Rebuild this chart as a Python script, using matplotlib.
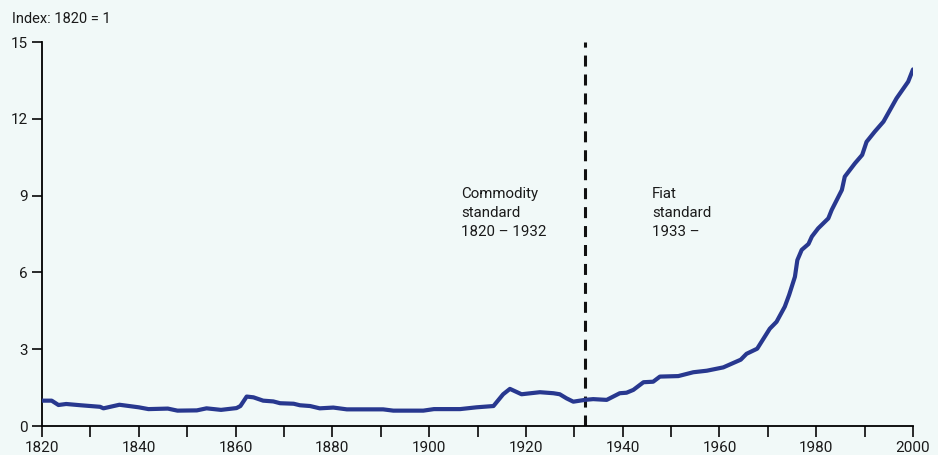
import matplotlib
matplotlib.use("Agg")
import matplotlib.pyplot as plt
import numpy as np

plt.rcParams['font.family'] = ['Roboto', 'DejaVu Sans']

# price level index, 1820 = 1
years = [1820, 1822, 1823.4, 1825, 1828, 1832, 1832.7, 1836, 1840, 1842, 1846, 1848,
         1852, 1854, 1857, 1860.2, 1861, 1862.3, 1863.7, 1865.7, 1867.8, 1869.2, 1872,
         1873.3, 1875.4, 1877.4, 1880.2, 1883, 1890.5, 1892.6, 1898.8, 1901, 1906.4,
         1909.8, 1913.3, 1915.3, 1916.7, 1919.1, 1922.9, 1925.7, 1927, 1928.4, 1929.8,
         1932.2, 1933.9, 1936.7, 1939.4, 1940.8, 1942.2, 1944.3, 1946.3, 1947.7, 1951.5,
         1954.6, 1957.4, 1960.8, 1964.4, 1965.6, 1967.8, 1970.4, 1971.8, 1973.5, 1974.4,
         1975.6, 1976.1, 1977, 1978.4, 1979.1, 1980.4, 1982.5, 1983.2, 1985.3, 1985.9,
         1988, 1989.5, 1990.4, 1992.1, 1993.9, 1996.6, 1999, 2000]
index = [0.99, 0.99, 0.82, 0.86, 0.81, 0.75, 0.69, 0.83, 0.73, 0.66, 0.68, 0.60,
         0.61, 0.69, 0.63, 0.70, 0.78, 1.15, 1.12, 0.99, 0.96, 0.89, 0.87,
         0.81, 0.78, 0.69, 0.72, 0.65, 0.65, 0.60, 0.60, 0.66, 0.66,
         0.73, 0.78, 1.24, 1.45, 1.24, 1.32, 1.28, 1.24, 1.08, 0.95,
         1.02, 1.05, 1.02, 1.28, 1.30, 1.41, 1.71, 1.73, 1.93, 1.95,
         2.10, 2.16, 2.29, 2.59, 2.82, 3.02, 3.80, 4.07, 4.66, 5.12,
         5.83, 6.48, 6.88, 7.11, 7.40, 7.72, 8.11, 8.44, 9.22, 9.74,
         10.26, 10.59, 11.10, 11.50, 11.89, 12.80, 13.45, 13.93]

regime_break = 1932.2
y_ticks = [0, 3, 6, 9, 12, 15]
x_major = list(range(1820, 2001, 20))
x_minor = list(range(1830, 2000, 20))

bg = '#f1f9f8'
fig = plt.figure(figsize=(9.38, 4.55), dpi=100, facecolor=bg)
ax = fig.add_axes([42/938, 29/455, 871/938, 384/455], facecolor=bg)

ax.plot(years, index, color='#28388f', lw=3.0, solid_capstyle='round',
        solid_joinstyle='round', zorder=3)
ax.axvline(regime_break, color='#111111', lw=2.2, ls=(0, (3.6, 2.6)), zorder=2)

ax.set_xlim(1820, 2000)
ax.set_ylim(0, 15)
ax.set_xticks(x_major)
ax.set_xticks(x_minor, minor=True)
ax.set_yticks(y_ticks)
for s in ['top', 'right']:
    ax.spines[s].set_visible(False)
for s in ['left', 'bottom']:
    ax.spines[s].set_linewidth(1.3)
    ax.spines[s].set_color('black')
ax.tick_params(axis='both', which='both', direction='out', width=1.3,
               labelsize=11, colors='#1a1a1a')
ax.tick_params(axis='x', which='both', length=8, pad=3)
ax.tick_params(axis='y', length=7, pad=3)

fig.text(12/938, 1 - 19/455, 'Index: 1820 = 1', fontsize=10.5, color='#1a1a1a',
         va='center', ha='left')
ax.text(1906.6, 9.35, 'Commodity\nstandard\n1820 – 1932', fontsize=10.8,
        color='#1a1a1a', va='top', ha='left', linespacing=1.47)
ax.text(1946.1, 9.35, 'Fiat\nstandard\n1933 –', fontsize=10.8,
        color='#1a1a1a', va='top', ha='left', linespacing=1.47)

fig.savefig('out.png', dpi=100, facecolor=bg)
